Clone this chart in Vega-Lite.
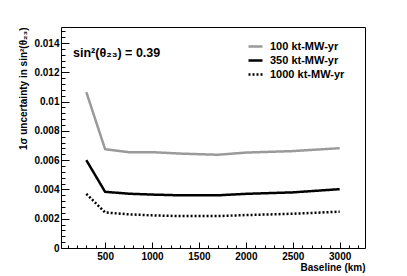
{
  "$schema": "https://vega.github.io/schema/vega-lite/v6.json",
  "width": 304,
  "height": 221,
  "autosize": {"type": "none"},
  "padding": {"left": 61, "top": 27, "right": 42, "bottom": 28},
  "background": "white",
  "config": {
    "font": "Liberation Sans",
    "view": {"stroke": "black", "strokeWidth": 1},
    "axis": {"grid": false, "domainColor": "black", "tickColor": "black", "labelColor": "black", "titleColor": "black", "labelFont": "Liberation Sans", "titleFont": "Liberation Sans", "labelFontWeight": "bold", "titleFontWeight": "bold"},
    "legend": {"rowPadding": 0}
  },
  "datasets": {
    "curves": [
      {"baseline": 300, "unc": 0.01065, "exposure": "100 kt-MW-yr"},
      {"baseline": 500, "unc": 0.00675, "exposure": "100 kt-MW-yr"},
      {"baseline": 750, "unc": 0.00655, "exposure": "100 kt-MW-yr"},
      {"baseline": 1000, "unc": 0.00655, "exposure": "100 kt-MW-yr"},
      {"baseline": 1300, "unc": 0.00645, "exposure": "100 kt-MW-yr"},
      {"baseline": 1700, "unc": 0.00637, "exposure": "100 kt-MW-yr"},
      {"baseline": 2000, "unc": 0.00652, "exposure": "100 kt-MW-yr"},
      {"baseline": 2500, "unc": 0.00662, "exposure": "100 kt-MW-yr"},
      {"baseline": 3000, "unc": 0.00682, "exposure": "100 kt-MW-yr"},
      {"baseline": 300, "unc": 0.0060, "exposure": "350 kt-MW-yr"},
      {"baseline": 500, "unc": 0.00384, "exposure": "350 kt-MW-yr"},
      {"baseline": 750, "unc": 0.00371, "exposure": "350 kt-MW-yr"},
      {"baseline": 1000, "unc": 0.00365, "exposure": "350 kt-MW-yr"},
      {"baseline": 1300, "unc": 0.0036, "exposure": "350 kt-MW-yr"},
      {"baseline": 1700, "unc": 0.0036, "exposure": "350 kt-MW-yr"},
      {"baseline": 2000, "unc": 0.0037, "exposure": "350 kt-MW-yr"},
      {"baseline": 2500, "unc": 0.0038, "exposure": "350 kt-MW-yr"},
      {"baseline": 3000, "unc": 0.00402, "exposure": "350 kt-MW-yr"},
      {"baseline": 300, "unc": 0.0037, "exposure": "1000 kt-MW-yr"},
      {"baseline": 500, "unc": 0.00243, "exposure": "1000 kt-MW-yr"},
      {"baseline": 750, "unc": 0.0023, "exposure": "1000 kt-MW-yr"},
      {"baseline": 1000, "unc": 0.00223, "exposure": "1000 kt-MW-yr"},
      {"baseline": 1300, "unc": 0.00218, "exposure": "1000 kt-MW-yr"},
      {"baseline": 1700, "unc": 0.00218, "exposure": "1000 kt-MW-yr"},
      {"baseline": 2000, "unc": 0.00225, "exposure": "1000 kt-MW-yr"},
      {"baseline": 2500, "unc": 0.00234, "exposure": "1000 kt-MW-yr"},
      {"baseline": 3000, "unc": 0.00248, "exposure": "1000 kt-MW-yr"}
    ],
    "note": [{"baseline": 158, "unc": 0.01306, "label": "sin²(θ₂₃) = 0.39"}]
  },
  "resolve": {"axis": {"x": "independent", "y": "independent"}},
  "layer": [
    {
      "data": {"name": "curves"},
      "mark": {"type": "line", "strokeWidth": 2.5, "clip": true},
      "encoding": {
        "x": {"field": "baseline", "type": "quantitative", "scale": {"domain": [30, 3270], "nice": false, "zero": false},
          "axis": {"orient": "bottom", "values": [500, 1000, 1500, 2000, 2500, 3000], "tickSize": -6, "labelPadding": 9, "labelFontSize": 10, "format": "d", "domain": false,
            "title": "Baseline (km)", "titleFontSize": 10, "titleAnchor": "end", "titleAlign": "right", "titleBaseline": "alphabetic", "titleX": 304, "titleY": 22}},
        "y": {"field": "unc", "type": "quantitative", "scale": {"domain": [0, 0.0151], "nice": false},
          "axis": {"orient": "left", "values": [0, 0.002, 0.004, 0.006, 0.008, 0.01, 0.012, 0.014], "tickSize": -8, "labelPadding": 10, "labelFontSize": 10, "format": "~g", "domain": false,
            "title": "1σ uncertainty in sin²(θ₂₃)", "titleFontSize": 10, "titleAnchor": "end", "titleAngle": -90, "titleAlign": "right", "titleBaseline": "alphabetic", "titleX": -35, "titleY": 0}},
        "color": {"field": "exposure", "type": "nominal", "sort": ["100 kt-MW-yr", "350 kt-MW-yr", "1000 kt-MW-yr"],
          "scale": {"domain": ["100 kt-MW-yr", "350 kt-MW-yr", "1000 kt-MW-yr"], "range": ["#9a9a9a", "#000000", "#000000"]},
          "legend": {"title": null, "orient": "none", "legendX": 186, "legendY": 11, "symbolType": "stroke", "symbolSize": 196, "symbolStrokeWidth": 2.5, "labelFontSize": 11, "labelFontWeight": "bold", "labelFont": "Liberation Sans", "labelColor": "black", "rowPadding": 0, "labelOffset": 6}},
        "strokeDash": {"field": "exposure", "type": "nominal", "sort": ["100 kt-MW-yr", "350 kt-MW-yr", "1000 kt-MW-yr"],
          "scale": {"domain": ["100 kt-MW-yr", "350 kt-MW-yr", "1000 kt-MW-yr"], "range": [[1, 0], [1, 0], [2, 2]]},
          "legend": {"title": null, "orient": "none", "legendX": 186, "legendY": 11, "symbolType": "stroke", "symbolSize": 196, "symbolStrokeWidth": 2.5, "labelFontSize": 11, "labelFontWeight": "bold", "labelFont": "Liberation Sans", "labelColor": "black", "rowPadding": 0, "labelOffset": 6}}
      }
    },
    {
      "data": {"name": "note"},
      "mark": {"type": "text", "align": "left", "baseline": "alphabetic", "fontSize": 12.5, "fontWeight": "bold", "font": "Liberation Sans", "color": "black"},
      "encoding": {
        "x": {"field": "baseline", "type": "quantitative", "scale": {"domain": [30, 3270], "nice": false, "zero": false},
          "axis": {"orient": "bottom", "values": [100, 200, 300, 400, 600, 700, 800, 900, 1100, 1200, 1300, 1400, 1600, 1700, 1800, 1900, 2100, 2200, 2300, 2400, 2600, 2700, 2800, 2900, 3100, 3200], "tickSize": -3, "labels": false, "title": null, "domain": false}},
        "y": {"field": "unc", "type": "quantitative", "scale": {"domain": [0, 0.0151], "nice": false},
          "axis": {"orient": "left", "values": [0.0004, 0.0008, 0.0012, 0.0016, 0.0024, 0.0028, 0.0032, 0.0036, 0.0044, 0.0048, 0.0052, 0.0056, 0.0064, 0.0068, 0.0072, 0.0076, 0.0084, 0.0088, 0.0092, 0.0096, 0.0104, 0.0108, 0.0112, 0.0116, 0.0124, 0.0128, 0.0132, 0.0136, 0.0144, 0.0148], "tickSize": -4, "labels": false, "title": null, "domain": false}},
        "text": {"field": "label"}
      }
    }
  ]
}
